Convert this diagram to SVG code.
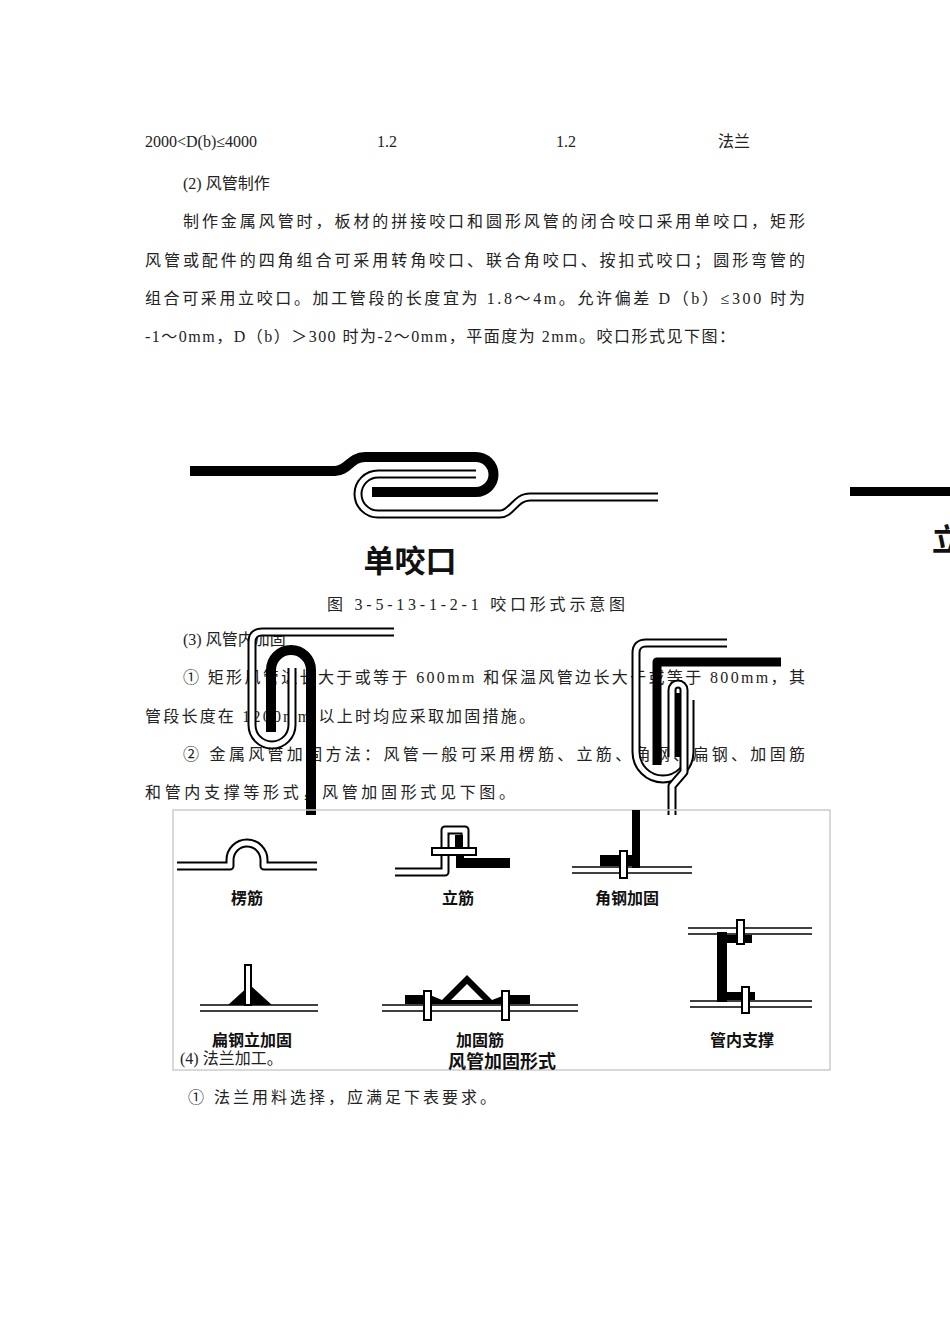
<svg xmlns="http://www.w3.org/2000/svg" width="950" height="1344" viewBox="0 0 950 1344">
<style>
.t{font-family:"Liberation Serif","Noto Sans CJK SC",serif;font-size:16px;fill:#222}
.b{font-family:"Liberation Sans","Noto Sans CJK SC",sans-serif;font-weight:bold;fill:#111}
.k{fill:none;stroke:#000;stroke-linecap:butt;stroke-linejoin:round}
.so{fill:none;stroke:#000;stroke-width:9;stroke-linejoin:round}
.si{fill:none;stroke:#fff;stroke-width:5;stroke-linejoin:round}
.dl{stroke:#000;stroke-width:1.6}
.cl{fill:#fff;stroke:#000;stroke-width:2}
</style>
<rect width="950" height="1344" fill="#fff"/>
<g id="text-top">
<text class="t" x="145" y="147">2000&lt;D(b)≤4000</text>
<text class="t" x="377" y="147">1.2</text>
<text class="t" x="556" y="147">1.2</text>
<text class="t" x="718" y="147">法兰</text>
<text class="t" x="183" y="189">(2) 风管制作</text>
<text class="t" x="183" y="227" textLength="622" lengthAdjust="spacing">制作金属风管时，板材的拼接咬口和圆形风管的闭合咬口采用单咬口，矩形</text>
<text class="t" x="145" y="266" textLength="660" lengthAdjust="spacing">风管或配件的四角组合可采用转角咬口、联合角咬口、按扣式咬口；圆形弯管的</text>
<text class="t" x="145" y="304" textLength="660" lengthAdjust="spacing">组合可采用立咬口。加工管段的长度宜为 1.8～4m。允许偏差 D（b）≤300 时为</text>
<text class="t" x="145" y="342" textLength="590" lengthAdjust="spacing">-1～0mm，D（b）＞300 时为-2～0mm，平面度为 2mm。咬口形式见下图：</text>
</g>
<g id="seam">
<path class="k" stroke-width="10" d="M190,471 L335,471 C348,471 350,457 365,457 L476,457 A17.5,17.5 0 0 1 476,492 L372,492"/>
<path class="so" stroke-width="8" d="M476,474 L378,474 A20,20 0 0 0 378,514 L500,514 C512,514 515,497 530,497 L658,497"/>
<path class="si" stroke-width="3" d="M476,474 L378,474 A20,20 0 0 0 378,514 L500,514 C512,514 515,497 530,497 L658,497"/>
<text class="b" x="410" y="572" font-size="31" text-anchor="middle">单咬口</text>
</g>
<g id="edge-fragment">
<rect x="850" y="487" width="100" height="9" fill="#000"/>
<text class="b" x="932" y="550" font-size="30">立</text>
</g>
<text class="t" x="327" y="610" textLength="298" lengthAdjust="spacing">图 3-5-13-1-2-1    咬口形式示意图</text>
<g id="text-mid">
<text class="t" x="183" y="645">(3) 风管内加固</text>
<text class="t" x="183" y="683" textLength="622" lengthAdjust="spacing">① 矩形风管边长大于或等于 600mm 和保温风管边长大于或等于 800mm，其</text>
<text class="t" x="145" y="722" textLength="390" lengthAdjust="spacing">管段长度在 1200mm 以上时均应采取加固措施。</text>
<text class="t" x="183" y="760" textLength="622" lengthAdjust="spacing">② 金属风管加固方法：风管一般可采用楞筋、立筋、角钢、扁钢、加固筋</text>
<text class="t" x="145" y="798" textLength="370" lengthAdjust="spacing">和管内支撑等形式，风管加固形式见下图。</text>
</g>
<g id="left-seam">
<path class="so" d="M394,632 L262,632 Q252,632 252,642 L252,725 A20,20 0 0 0 292,725 L292,668"/>
<path class="si" d="M394,632 L262,632 Q252,632 252,642 L252,725 A20,20 0 0 0 292,725 L292,668"/>
<path class="k" stroke-width="10" d="M271,732 L271,670 A20,20 0 0 1 311,670 L311,815"/>
</g>
<g id="right-seam">
<path class="so" d="M727,643 L646,643 Q636,643 636,653 L636,752 A27,27 0 0 0 690,752 L690,700"/>
<path class="si" d="M727,643 L646,643 Q636,643 636,653 L636,752 A27,27 0 0 0 690,752 L690,700"/>
<path class="k" stroke-width="9" d="M781,662 L657,662 L657,765"/>
<path class="so" d="M672,815 L672,786 L684,772 L684,690 A6,6 0 0 0 672,690 L672,757"/>
<path class="si" d="M672,815 L672,786 L684,772 L684,690 A6,6 0 0 0 672,690 L672,757"/>
<path class="k" stroke-width="5" d="M678,693 L678,757"/>
</g>
<rect x="173" y="810" width="657" height="260" fill="none" stroke="#ccc" stroke-width="1.5"/>
<g id="lengjin">
<path class="so" d="M177,866 L230,866 L230,860 A17,17 0 0 1 264,860 L264,866 L317,866"/>
<path class="si" d="M177,866 L230,866 L230,860 A17,17 0 0 1 264,860 L264,866 L317,866"/>
<text class="b" x="247" y="904" font-size="16" text-anchor="middle">楞筋</text>
</g>
<g id="lijin">
<path class="so" d="M395,872 L445,872 L445,830 L465,830 L465,855"/>
<path class="si" d="M395,872 L445,872 L445,830 L465,830 L465,855"/>
<rect x="455" y="835" width="8" height="15" fill="#000"/>
<rect x="458" y="858" width="52" height="10" fill="#000"/>
<rect x="456" y="848" width="8" height="20" fill="#000"/>
<rect x="432" y="848" width="44" height="7" class="cl"/>
<text class="b" x="458" y="904" font-size="16" text-anchor="middle">立筋</text>
</g>
<g id="jiaogang">
<rect x="632" y="810" width="8" height="58" fill="#000"/>
<rect x="600" y="855" width="40" height="11" fill="#000"/>
<line class="dl" x1="572" y1="867" x2="692" y2="867"/>
<line class="dl" x1="572" y1="873" x2="692" y2="873"/>
<rect x="620" y="851" width="7" height="27" class="cl"/>
<text class="b" x="627" y="904" font-size="16" text-anchor="middle">角钢加固</text>
</g>
<g id="biangang">
<polygon points="228,1005 272,1005 250,985" fill="#000"/>
<rect x="245" y="965" width="6" height="40" class="cl"/>
<line class="dl" x1="200" y1="1005" x2="318" y2="1005"/>
<line class="dl" x1="200" y1="1011" x2="318" y2="1011"/>
<text class="b" x="252" y="1046" font-size="16" text-anchor="middle">扁钢立加固</text>
</g>
<g id="jiagujin">
<path d="M405,1004 L405,995 L430,995 L442,1000 L467,975 L492,1000 L505,995 L530,995 L530,1004 Z M451,1000 L483,1000 L467,984 Z" fill="#000" fill-rule="evenodd"/>
<line class="dl" x1="382" y1="1005" x2="578" y2="1005"/>
<line class="dl" x1="382" y1="1011" x2="578" y2="1011"/>
<rect x="424" y="991" width="7" height="29" class="cl"/>
<rect x="502" y="991" width="7" height="29" class="cl"/>
<text class="b" x="480" y="1046" font-size="16" text-anchor="middle">加固筋</text>
</g>
<g id="guanneizhicheng">
<rect x="717" y="932" width="10" height="70" fill="#000"/>
<rect x="717" y="935" width="35" height="8" fill="#000"/>
<rect x="717" y="992" width="38" height="8" fill="#000"/>
<line class="dl" x1="688" y1="928" x2="812" y2="928"/>
<line class="dl" x1="688" y1="934" x2="812" y2="934"/>
<line class="dl" x1="690" y1="1001" x2="812" y2="1001"/>
<line class="dl" x1="690" y1="1007" x2="812" y2="1007"/>
<rect x="737" y="920" width="7" height="24" class="cl"/>
<rect x="742" y="987" width="7" height="26" class="cl"/>
<text class="b" x="742" y="1046" font-size="16" text-anchor="middle">管内支撑</text>
</g>
<text class="b" x="502" y="1068" font-size="18" text-anchor="middle">风管加固形式</text>
<text class="t" x="180" y="1064">(4) 法兰加工。</text>
<text class="t" x="188" y="1103" textLength="308" lengthAdjust="spacing">① 法兰用料选择，应满足下表要求。</text>
</svg>
